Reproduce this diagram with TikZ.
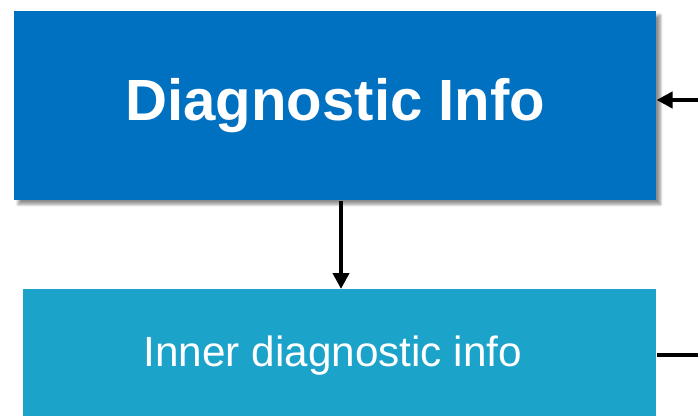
\documentclass[tikz,border=0pt]{standalone}
\usepackage{fontspec}
\setmainfont{Liberation Sans}
\usetikzlibrary{arrows.meta,shadows.blur}
\definecolor{topblue}{HTML}{0070C0}
\definecolor{lowblue}{HTML}{1BA3C9}
\tikzset{
  px/.style={x=0.75pt,y=-0.75pt},
  mainbox/.style={fill=topblue, draw=none, inner sep=0pt, text=white,
     blur shadow={shadow xshift=3pt, shadow yshift=-3pt, shadow blur steps=6, shadow opacity=45}},
  subbox/.style={fill=lowblue, draw=none, inner sep=0pt, text=white},
  conn/.style={line width=3pt, -{Triangle[length=12pt,width=12pt]}},
  plainconn/.style={line width=3pt}
}
\begin{document}
\begin{tikzpicture}[px]
\useasboundingbox (0,0) rectangle (698,416);
\node[mainbox, minimum width=481.5pt, minimum height=141.75pt, anchor=north west,
  font=\fontsize{43.6}{50}\selectfont\bfseries] (diag) at (14,11) {Diagnostic Info};
\node[subbox, minimum width=474.75pt, minimum height=99pt, anchor=north west,
  font=\fontsize{31.7}{38}\selectfont] (inner) at (23,289) {Inner diagnostic info\hspace*{10.5pt}};
\coordinate (rin) at (698,100);
\coordinate (rout) at (698,355);
\draw[conn] (diag.south -| 341,0) -- (inner.north -| 341,0);
\draw[conn] (rin) -- (diag.east |- rin);
\draw[plainconn] (inner.east |- rout) -- (rout);
\end{tikzpicture}
\end{document}
